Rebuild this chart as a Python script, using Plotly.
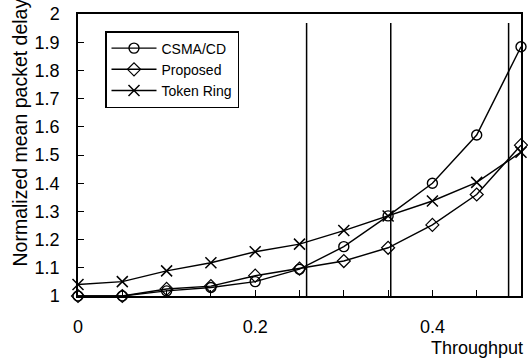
import plotly.graph_objects as go

throughput = [0, 0.05, 0.1, 0.15, 0.2, 0.25, 0.3, 0.35, 0.4, 0.45, 0.5]
csma_cd = [1.0, 1.0, 1.018, 1.03, 1.051, 1.095, 1.175, 1.284, 1.40, 1.571, 1.884]
proposed = [1.0, 1.0, 1.025, 1.035, 1.072, 1.097, 1.124, 1.171, 1.252, 1.36, 1.535]
token_ring = [1.041, 1.051, 1.089, 1.118, 1.157, 1.184, 1.232, 1.284, 1.337, 1.403, 1.51]
vlines_x = [0.258, 0.353, 0.486]
vline_top = 1.968

x_tickvals = [0, 0.05, 0.1, 0.15, 0.2, 0.25, 0.3, 0.35, 0.4, 0.45, 0.5]
x_ticktext = ["0", "", "", "", "0.2", "", "", "", "0.4", "", ""]
y_tickvals = [1, 1.1, 1.2, 1.3, 1.4, 1.5, 1.6, 1.7, 1.8, 1.9, 2]
y_ticktext = ["1", "1.1", "1.2", "1.3", "1.4", "1.5", "1.6", "1.7", "1.8", "1.9", "2"]

fig = go.Figure()
for vx in vlines_x:
    fig.add_trace(go.Scatter(x=[vx, vx], y=[1, vline_top], mode="lines",
                             line=dict(color="black", width=1.5), showlegend=False, hoverinfo="skip"))

fig.add_trace(go.Scatter(x=throughput, y=csma_cd, name="CSMA/CD", mode="lines+markers", cliponaxis=False,
                         line=dict(color="black", width=1.4),
                         marker=dict(symbol="circle-open", size=10, color="black", line=dict(width=1.4))))
fig.add_trace(go.Scatter(x=throughput, y=proposed, name="Proposed", mode="lines+markers", cliponaxis=False,
                         line=dict(color="black", width=1.4),
                         marker=dict(symbol="diamond-open", size=10, color="black", line=dict(width=1.2))))
fig.add_trace(go.Scatter(x=throughput, y=token_ring, name="Token Ring", mode="lines+markers", cliponaxis=False,
                         line=dict(color="black", width=1.4),
                         marker=dict(symbol="x-thin-open", size=11, color="black", line=dict(width=1.5))))

W, H = 528, 360
ml, mr, mt, mb = 78, 7, 14, 64
pw, ph = W - ml - mr, H - mt - mb

fig.update_layout(
    width=W, height=H,
    margin=dict(l=ml, r=mr, t=mt, b=mb, autoexpand=False),
    paper_bgcolor="white", plot_bgcolor="white",
    font=dict(family="Liberation Sans, Arial, sans-serif", color="black", size=18),
    legend=dict(x=(105 - ml) / pw, y=1 - (31 - mt) / ph, xanchor="left", yanchor="top",
                bordercolor="black", borderwidth=1.5, bgcolor="white",
                font=dict(size=14), tracegroupgap=0, itemwidth=45),
    annotations=[
        dict(text="Throughput", x=(477 - ml) / pw, y=-(348 - (H - mb)) / ph, xref="paper", yref="paper",
             showarrow=False, font=dict(size=18), xanchor="center", yanchor="middle"),
        dict(text="Normalized mean packet delay", x=(19 - ml) / pw, y=1 - (132.5 - mt) / ph,
             xref="paper", yref="paper", showarrow=False, textangle=-90,
             font=dict(size=19.5), xanchor="center", yanchor="middle"),
    ],
)

fig.update_xaxes(range=[0, 0.5], tickvals=x_tickvals, ticktext=x_ticktext,
                 ticks="inside", ticklen=6, tickwidth=1.2, tickcolor="black",
                 showline=True, linecolor="black", linewidth=1.5, mirror=True,
                 showgrid=False, zeroline=False, ticklabelstandoff=14, ticklabeloverflow="allow")
fig.update_yaxes(range=[1, 2], tickvals=y_tickvals, ticktext=y_ticktext,
                 ticks="inside", ticklen=6, tickwidth=1.2, tickcolor="black",
                 showline=True, linecolor="black", linewidth=1.5, mirror=True,
                 showgrid=False, zeroline=False, ticklabelstandoff=13, ticklabeloverflow="allow")

fig.write_html("out.html", config={"displayModeBar": False},
               post_script="document.body.style.margin='0';document.body.style.overflow='hidden';")
